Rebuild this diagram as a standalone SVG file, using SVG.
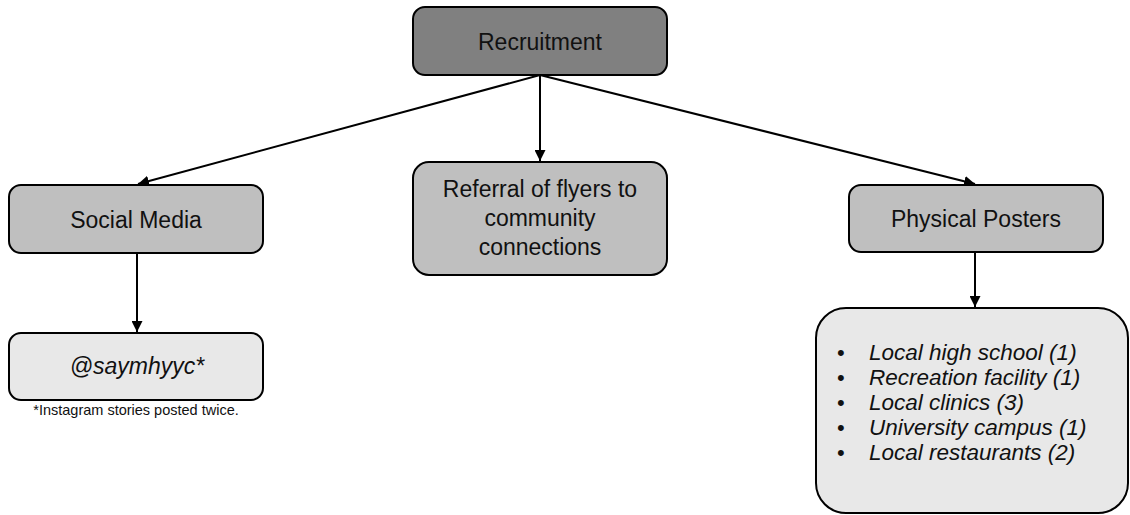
<svg xmlns="http://www.w3.org/2000/svg" width="1130" height="515" viewBox="0 0 1130 515">
  <style>
    .box { stroke: #000; stroke-width: 2; }
    .lbl { font-family: "Liberation Sans", Arial, sans-serif; font-size: 23px; fill: #111; text-anchor: middle; }
    .it { font-style: italic; }
    .edge { stroke: #000; stroke-width: 2; fill: none; marker-end: url(#arrow); }
    .note { font-family: "Liberation Sans", Arial, sans-serif; font-size: 14.5px; fill: #111; text-anchor: middle; }
    .item { font-family: "Liberation Sans", Arial, sans-serif; font-size: 22.5px; fill: #111; font-style: italic; }
    .bullet { font-family: "Liberation Sans", Arial, sans-serif; font-size: 22px; fill: #111; }
  </style>
  <defs>
    <marker id="arrow" viewBox="0 0 10 10" refX="10" refY="5" markerWidth="5.5" markerHeight="5.5" orient="auto" markerUnits="strokeWidth">
      <path d="M0,0 L10,5 L0,10 z" fill="#000"/>
    </marker>
  </defs>
  <rect width="1130" height="515" fill="#fff"/>

  <g id="connectors">
    <line class="edge" x1="540" y1="75" x2="138" y2="184"/>
    <line class="edge" x1="540" y1="75" x2="540" y2="161"/>
    <line class="edge" x1="540" y1="75" x2="975" y2="184"/>
    <line class="edge" x1="137" y1="253" x2="137" y2="332"/>
    <line class="edge" x1="975" y1="252" x2="975" y2="307"/>
  </g>

  <g id="recruitment">
    <rect class="box" x="413" y="7" width="254" height="68" rx="12" fill="#808080"/>
    <text class="lbl" x="540" y="50" font-size="24.5">Recruitment</text>
  </g>

  <g id="social-media">
    <rect class="box" x="9" y="185" width="254" height="68" rx="12" fill="#bfbfbf"/>
    <text class="lbl" x="136" y="228" font-size="24">Social Media</text>
  </g>

  <g id="handle">
    <rect class="box" x="9" y="333" width="254" height="67" rx="12" fill="#e8e8e8"/>
    <text class="lbl it" x="137" y="374" font-size="24.5">@saymhyyc*</text>
    <text class="note" x="136" y="415">*Instagram stories posted twice.</text>
  </g>

  <g id="referral">
    <rect class="box" x="413" y="162" width="254" height="113" rx="16" fill="#bfbfbf"/>
    <text class="lbl" x="540" y="197">Referral of flyers to</text>
    <text class="lbl" x="540" y="226">community</text>
    <text class="lbl" x="540" y="255">connections</text>
  </g>

  <g id="physical-posters">
    <rect class="box" x="849" y="185" width="254" height="67" rx="12" fill="#bfbfbf"/>
    <text class="lbl" x="976" y="227">Physical Posters</text>
  </g>

  <g id="poster-locations">
    <rect class="box" x="816" y="308" width="312" height="205" rx="30" fill="#e8e8e8"/>
    <text class="bullet" x="837" y="360">•</text>
    <text class="item" x="869" y="360">Local high school (1)</text>
    <text class="bullet" x="837" y="385">•</text>
    <text class="item" x="869" y="385">Recreation facility (1)</text>
    <text class="bullet" x="837" y="410">•</text>
    <text class="item" x="869" y="410">Local clinics (3)</text>
    <text class="bullet" x="837" y="435">•</text>
    <text class="item" x="869" y="435">University campus (1)</text>
    <text class="bullet" x="837" y="460">•</text>
    <text class="item" x="869" y="460">Local restaurants (2)</text>
  </g>
</svg>
